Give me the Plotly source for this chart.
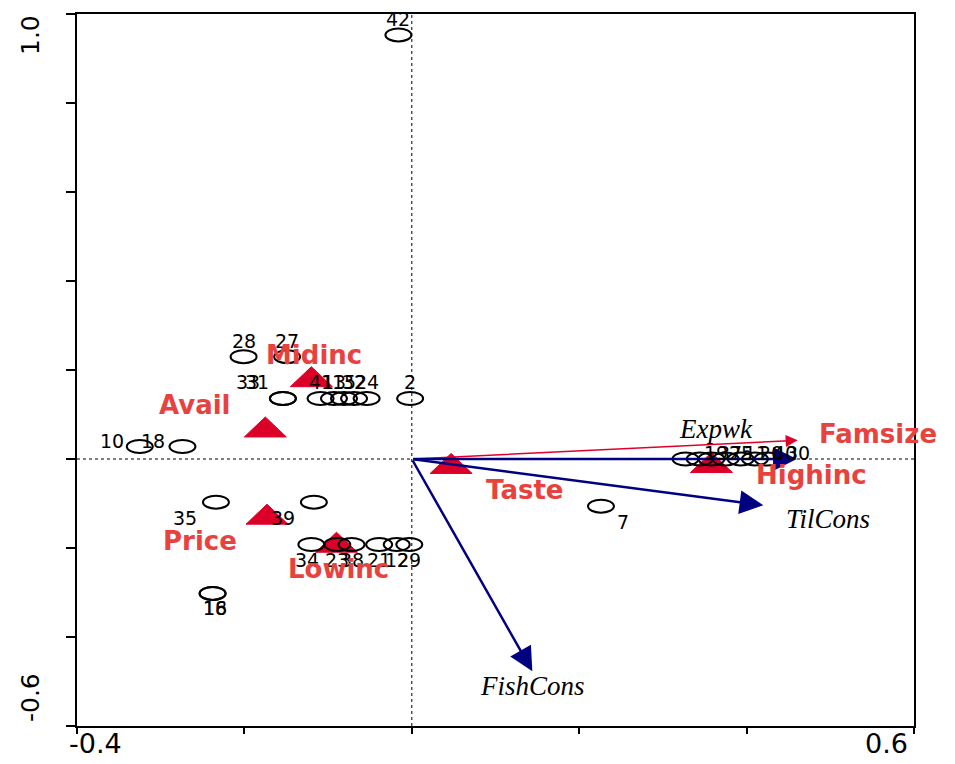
import plotly.graph_objects as go

# ---------------- data ----------------
sample_labels = ["42", "28", "27", "33", "31", "41", "13", "15", "32", "24", "2",
                 "10", "18", "35", "39", "16", "18",
                 "34", "23", "38", "21", "12", "29", "7",
                 "19", "37", "25", "11", "20", "40", "30"]
sample_x = [-0.016, -0.201, -0.149, -0.154, -0.154, -0.109, -0.093, -0.081, -0.069, -0.054, -0.002,
            -0.325, -0.274, -0.234, -0.117, -0.238, -0.238,
            -0.120, -0.089, -0.072, -0.039, -0.018, -0.003, 0.226,
            0.327, 0.344, 0.358, 0.375, 0.393, 0.410, 0.425]
sample_y = [0.953, 0.230, 0.230, 0.136, 0.136, 0.136, 0.136, 0.136, 0.136, 0.136, 0.136,
            0.028, 0.028, -0.097, -0.097, -0.302, -0.302,
            -0.192, -0.192, -0.192, -0.192, -0.192, -0.192, -0.106,
            0.0, 0.0, 0.0, 0.0, 0.0, 0.0, 0.0]

var_labels = ["Midinc", "Avail", "Price", "Lowinc", "Taste", "Highinc"]
var_x = [-0.120, -0.175, -0.173, -0.090, 0.047, 0.358]
var_y = [0.185, 0.072, -0.124, -0.187, -0.010, -0.008]

env_labels = ["Famsize", "Expwk", "TilCons", "FishCons"]
env_x = [0.461, 0.460, 0.420, 0.144]
env_y = [0.042, 0.0, -0.104, -0.477]

x_ticks = [-0.4, -0.2, 0.0, 0.2, 0.4, 0.6]
y_ticks = [-0.6, -0.4, -0.2, 0.0, 0.2, 0.4, 0.6, 0.8, 1.0]

# ---------------- style (pixel offsets of labels) ----------------
sample_off = [(0, -16), (0, -16), (0, -16), (-35, -16), (-26, -16), (0, -16), (0, -16), (0, -16),
              (0, -16), (0, -16), (0, -16),
              (-28, -6), (-29, -6), (-31, 16), (-31, 16), (2, 15), (2, 15),
              (-4, 16), (0, 16), (0, 16), (0, 16), (0, 16), (0, 16), (22, 16),
              (30, -6), (30, -6), (30, -6), (30, -6), (30, -6), (30, -6), (30, -6)]
var_off = [(3, -22), (-70, -22), (-67, 27), (2, 27), (73, 27), (100, 12)]
env_off = [(80, -6), (-81, -30), (65, 14), (0, 15)]
env_color = ["#e0002a", "#000080", "#000080", "#000080"]
env_label_red = [True, False, False, False]

RED_TRI = "#dc0028"
RED_TXT = "#e8423f"

fig = go.Figure()

# invisible hover traces so data is attached to the axes
fig.add_trace(go.Scatter(x=sample_x, y=sample_y, mode="markers", text=sample_labels,
                         marker=dict(size=12, opacity=0), showlegend=False, hoverinfo="text+x+y"))
fig.add_trace(go.Scatter(x=var_x, y=var_y, mode="markers", text=var_labels,
                         marker=dict(size=12, opacity=0), showlegend=False, hoverinfo="text+x+y"))

shapes = []
# dotted axes through origin
shapes.append(dict(type="line", xref="x", yref="paper", x0=0, x1=0, y0=0, y1=1,
                   line=dict(color="black", width=1, dash="dot"), layer="below"))
shapes.append(dict(type="line", xref="paper", yref="y", x0=0, x1=1, y0=0, y1=0,
                   line=dict(color="black", width=1, dash="dot"), layer="below"))

# triangles for nominal variables
for x, y in zip(var_x, var_y):
    shapes.append(dict(type="path", xref="x", yref="y", xsizemode="pixel", ysizemode="pixel",
                       xanchor=x, yanchor=y, path="M-21,-10 L21,-10 L0,10 Z",
                       fillcolor=RED_TRI, line=dict(color=RED_TRI, width=1)))

# ellipses for samples
for x, y in zip(sample_x, sample_y):
    shapes.append(dict(type="circle", xref="x", yref="y", xsizemode="pixel", ysizemode="pixel",
                       xanchor=x, yanchor=y, x0=-13, x1=13, y0=-6.5, y1=6.5,
                       line=dict(color="black", width=2)))

annotations = []
# arrows
for lab, x, y, c, red in zip(env_labels, env_x, env_y, env_color, env_label_red):
    annotations.append(dict(x=x, y=y, ax=0, ay=0, xref="x", yref="y", axref="x", ayref="y",
                            showarrow=True, arrowhead=2, standoff=0,
                            arrowsize=1.9 if not red else 1.6,
                            arrowwidth=2.5 if not red else 1.5,
                            arrowcolor=c, text=""))
for lab, x, y, (dx, dy), red in zip(env_labels, env_x, env_y, env_off, env_label_red):
    if red:
        font = dict(family="DejaVu Sans", size=26, color=RED_TXT, weight="bold")
    else:
        font = dict(family="Liberation Serif", size=27, color="black", style="italic")
    annotations.append(dict(x=x, y=y, xref="x", yref="y", text=lab, showarrow=False,
                            xshift=dx, yshift=-dy, font=font))

# sample labels
for lab, x, y, (dx, dy) in zip(sample_labels, sample_x, sample_y, sample_off):
    annotations.append(dict(x=x, y=y, xref="x", yref="y", text=lab, showarrow=False,
                            xshift=dx, yshift=-dy,
                            font=dict(family="DejaVu Sans", size=19, color="black")))

# variable labels
for lab, x, y, (dx, dy) in zip(var_labels, var_x, var_y, var_off):
    annotations.append(dict(x=x, y=y, xref="x", yref="y", text=lab, showarrow=False,
                            xshift=dx, yshift=-dy,
                            font=dict(family="DejaVu Sans", size=26, color=RED_TXT, weight="bold")))

# end tick labels
annotations.append(dict(x=x_ticks[0], y=0, xref="x", yref="paper", text="-0.4", showarrow=False,
                        xanchor="left", yanchor="top", xshift=-10, yshift=0,
                        font=dict(family="DejaVu Sans", size=27, color="black")))
annotations.append(dict(x=x_ticks[-1], y=0, xref="x", yref="paper", text="0.6", showarrow=False,
                        xanchor="right", yanchor="top", xshift=-4, yshift=0,
                        font=dict(family="DejaVu Sans", size=27, color="black")))
annotations.append(dict(x=0, y=y_ticks[-1], xref="paper", yref="y", text="1.0", showarrow=False,
                        xanchor="center", yanchor="middle", xshift=-47, yshift=-21, textangle=-90,
                        font=dict(family="DejaVu Sans", size=25, color="black")))
annotations.append(dict(x=0, y=y_ticks[0], xref="paper", yref="y", text="-0.6", showarrow=False,
                        xanchor="center", yanchor="middle", xshift=-47, yshift=28, textangle=-90,
                        font=dict(family="DejaVu Sans", size=25, color="black")))

fig.update_layout(
    width=955, height=764,
    margin=dict(l=77, r=41, t=12, b=38),
    plot_bgcolor="white", paper_bgcolor="white",
    shapes=shapes, annotations=annotations,
    showlegend=False,
    xaxis=dict(range=[-0.4, 0.6], tickvals=x_ticks, showticklabels=False, ticks="outside",
               ticklen=6, tickwidth=1.5, tickcolor="black", showgrid=False, zeroline=False,
               showline=True, linecolor="black", linewidth=2, mirror=True),
    yaxis=dict(range=[-0.6, 1.0], tickvals=y_ticks, showticklabels=False, ticks="outside",
               ticklen=9, tickwidth=1.5, tickcolor="black", showgrid=False, zeroline=False,
               showline=True, linecolor="black", linewidth=2, mirror=True),
)

fig.write_html("out.html")
